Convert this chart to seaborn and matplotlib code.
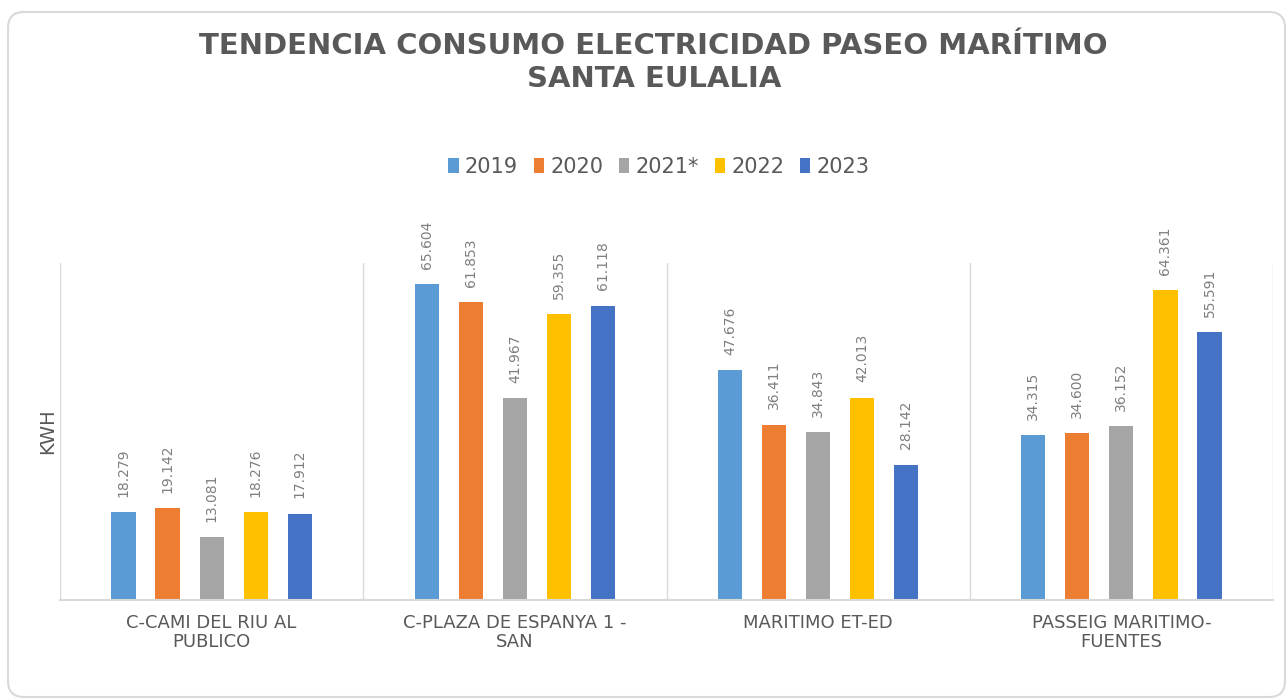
import seaborn as sns
import numpy as np
import pandas as pd
import matplotlib.pyplot as plt
from matplotlib.patches import FancyBboxPatch
from matplotlib.transforms import IdentityTransform

# datos (kWh)
ubicaciones = ["C-CAMI DEL RIU AL\nPUBLICO", "C-PLAZA DE ESPANYA 1 -\nSAN",
               "MARITIMO ET-ED", "PASSEIG MARITIMO-\nFUENTES"]
anios = ["2019", "2020", "2021*", "2022", "2023"]
v2019 = [18279, 65604, 47676, 34315]
v2020 = [19142, 61853, 36411, 34600]
v2021 = [13081, 41967, 34843, 36152]
v2022 = [18276, 59355, 42013, 64361]
v2023 = [17912, 61118, 28142, 55591]
colores = ["#5B9BD5", "#ED7D31", "#A5A5A5", "#FFC000", "#4472C4"]

series = [v2019, v2020, v2021, v2022, v2023]
rows = []
for a, vals in zip(anios, series):
    for u, v in zip(ubicaciones, vals):
        rows.append({"ubicacion": u, "anio": a, "kwh": v})
df = pd.DataFrame(rows)

sns.set_theme(style="white")
plt.rcParams['font.family'] = ['DejaVu Sans']

fig = plt.figure(figsize=(12.87, 6.99), dpi=100)
ax = fig.add_axes([60/1287, 1-600/699, (1273-60)/1287, (600-263)/699])

sns.barplot(data=df, x="ubicacion", y="kwh", hue="anio", order=ubicaciones,
            hue_order=anios, palette=colores, saturation=1, width=0.726, gap=0.45,
            linewidth=0, ax=ax)

for cont in ax.containers:
    ax.bar_label(cont, labels=[f"{int(b.get_height()):,}".replace(",", ".") for b in cont],
                 rotation=90, padding=11, fontsize=10, color="#7F7F7F", clip_on=False)

ax.set_ylim(0, 70000)
ax.set_xlim(-0.5, 3.5)
ax.set_yticks([])
ax.set_xticks(range(len(ubicaciones)))
ax.set_xticklabels(ubicaciones, fontsize=13, color="#595959", linespacing=1.05)
ax.set_xticks(np.arange(-0.5, 4, 1), minor=True)
ax.tick_params(axis="x", which="both", length=0, pad=10)
ax.grid(True, which="minor", axis="x", color="#D9D9D9", lw=1)
ax.set_xlabel("")
ax.set_ylabel("KWH", fontsize=14, color="#595959", labelpad=2)
for s in ["top", "right", "left"]:
    ax.spines[s].set_visible(False)
ax.spines["bottom"].set_color("#D9D9D9")
ax.spines["bottom"].set_linewidth(1.5)

handles, labels = ax.get_legend_handles_labels()
ax.get_legend().remove()
fig.legend(handles, labels, loc="center", bbox_to_anchor=(0.512, 0.761), ncol=5,
           frameon=False, fontsize=15, labelcolor="#595959", handlelength=0.5,
           handleheight=0.7, handletextpad=0.3, columnspacing=0.75)

fig.text(0.508, 0.9106, "TENDENCIA CONSUMO ELECTRICIDAD PASEO MARÍTIMO\nSANTA EULALIA",
         ha="center", va="center", fontsize=21, fontweight="bold", color="#595959",
         linespacing=1.2)

borde = FancyBboxPatch((8, 2), 1277, 685, boxstyle="round,pad=0,rounding_size=16",
                       transform=IdentityTransform(), fill=False, edgecolor="#D9D9D9", lw=1.5)
fig.patches.append(borde)

fig.savefig("out.png", dpi=100)
